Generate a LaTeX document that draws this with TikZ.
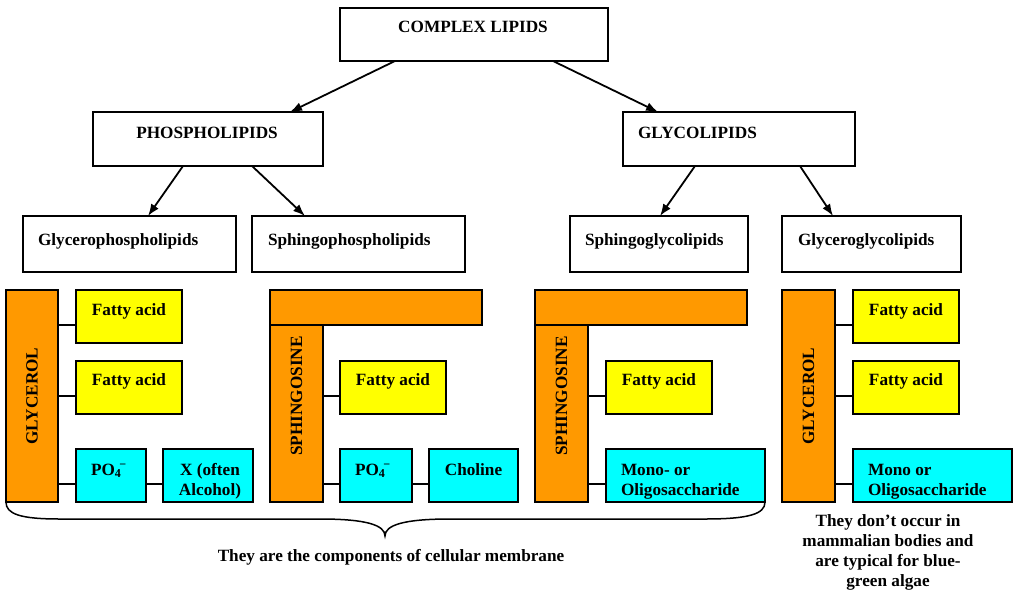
\documentclass[tikz,border=0pt]{standalone}
\usepackage{fontspec}
\setmainfont{Liberation Serif}
\usetikzlibrary{arrows.meta,calc}

\definecolor{barorange}{HTML}{FF9900}
\definecolor{acidyellow}{HTML}{FFFF00}
\definecolor{headcyan}{HTML}{00FFFF}

% \lipidbox{name}{style}{left}{top}{width}{height}
\newcommand\lipidbox[6]{\node[#2, minimum width=#5pt, minimum height=#6pt] (#1) at (#3,#4) {};}

\tikzset{
  outline/.style={rectangle, draw=black, line width=1.3pt, fill=white,
    inner sep=0pt, outer sep=0pt, anchor=north west},
  backbone/.style={outline, fill=barorange},
  acidbox/.style={outline, fill=acidyellow},
  headbox/.style={outline, fill=headcyan},
  txt/.style={font=\bfseries\fontsize{17.2}{20}\selectfont, inner sep=0pt, outer sep=0pt},
  btxt/.style={txt, anchor=base},
  wtxt/.style={txt, anchor=base west},
  vtxt/.style={txt, rotate=90, anchor=center},
  arrowline/.style={line width=1.8pt, -{Latex[length=12pt,width=9pt]}},
  link/.style={line width=1.3pt},
  bracepath/.style={line width=1.5pt},
}

\begin{document}
\begin{tikzpicture}[x=1pt, y=-1pt]
\useasboundingbox (0,0) rectangle (1016,589);

% classification tree
\lipidbox{cl}{outline}{340}{8}{268}{53}
\lipidbox{phos}{outline}{93}{112}{230}{54}
\lipidbox{glyco}{outline}{623}{112}{232}{54}
\lipidbox{gpl}{outline}{23}{216}{213}{56}
\lipidbox{spl}{outline}{252}{216}{213}{56}
\lipidbox{sgl}{outline}{570}{216}{178}{56}
\lipidbox{ggl}{outline}{782}{216}{179}{56}

\node[btxt] at (473,32) {COMPLEX LIPIDS};
\node[btxt] at (207,138) {PHOSPHOLIPIDS};
\node[wtxt] at (638,138) {GLYCOLIPIDS};
\node[wtxt] at (38,245) {Glycerophospholipids};
\node[wtxt] at (268,245) {Sphingophospholipids};
\node[wtxt] at (585,245) {Sphingoglycolipids};
\node[wtxt] at (798,245) {Glyceroglycolipids};

\draw[arrowline] ($(cl.south west)+(55,0)$) -- ($(phos.north west)+(197,0)$);
\draw[arrowline] ($(cl.south west)+(213,0)$) -- ($(glyco.north west)+(35,0)$);
\draw[arrowline] ($(phos.south west)+(90,0)$) -- ($(gpl.north west)+(125,0)$);
\draw[arrowline] ($(phos.south west)+(159,0)$) -- ($(spl.north west)+(53,0)$);
\draw[arrowline] ($(glyco.south west)+(72,0)$) -- ($(sgl.north west)+(90,0)$);
\draw[arrowline] ($(glyco.south west)+(177,0)$) -- ($(ggl.north west)+(51,0)$);

% rows of the attached groups
\coordinate (rowA) at (0,325);
\coordinate (rowB) at (0,396);
\coordinate (rowC) at (0,484);

% glycerophospholipid
\lipidbox{gly1}{backbone}{6}{290}{52}{212}
\lipidbox{fa1a}{acidbox}{76}{290}{106}{53}
\lipidbox{fa1b}{acidbox}{76}{361}{106}{53}
\lipidbox{po1}{headbox}{76}{449}{70}{53}
\lipidbox{x1}{headbox}{163}{449}{90}{53}
\draw[link] (gly1.east |- rowA) -- (fa1a.west |- rowA);
\draw[link] (gly1.east |- rowB) -- (fa1b.west |- rowB);
\draw[link] (gly1.east |- rowC) -- (po1.west |- rowC);
\draw[link] (po1.east |- rowC) -- (x1.west |- rowC);
\node[vtxt] at (gly1.center |- rowB) {GLYCEROL};
\node[btxt] at (129,315) {Fatty acid};
\node[btxt] at (129,385) {Fatty acid};
\node[wtxt] at (91,475) {PO\textsubscript{4}\kern-0.12em\textsuperscript{\char"2212}};
\node[txt, anchor=north, align=center] at (210,463) {X (often\\Alcohol)};

% sphingophospholipid
\lipidbox{sph2top}{backbone}{270}{290}{212}{35}
\lipidbox{sph2}{backbone}{270}{325}{53}{177}
\lipidbox{fa2}{acidbox}{340}{361}{106}{53}
\lipidbox{po2}{headbox}{340}{449}{72}{53}
\lipidbox{cho2}{headbox}{429}{449}{89}{53}
\draw[link] (sph2.east |- rowB) -- (fa2.west |- rowB);
\draw[link] (sph2.east |- rowC) -- (po2.west |- rowC);
\draw[link] (po2.east |- rowC) -- (cho2.west |- rowC);
\node[vtxt] at (sph2.center |- rowB) {SPHINGOSINE};
\node[btxt] at (393,385) {Fatty acid};
\node[wtxt] at (355,475) {PO\textsubscript{4}\kern-0.12em\textsuperscript{\char"2212}};
\node[btxt] at (473.5,475) {Choline};

% sphingoglycolipid
\lipidbox{sph3top}{backbone}{535}{290}{212}{35}
\lipidbox{sph3}{backbone}{535}{325}{53}{177}
\lipidbox{fa3}{acidbox}{606}{361}{106}{53}
\lipidbox{mono3}{headbox}{606}{449}{159}{53}
\draw[link] (sph3.east |- rowB) -- (fa3.west |- rowB);
\draw[link] (sph3.east |- rowC) -- (mono3.west |- rowC);
\node[vtxt] at (sph3.center |- rowB) {SPHINGOSINE};
\node[btxt] at (659,385) {Fatty acid};
\node[txt, anchor=north west, align=left] at (621,464) {Mono- or\\Oligosaccharide};

% glyceroglycolipid
\lipidbox{gly4}{backbone}{782}{290}{53}{212}
\lipidbox{fa4a}{acidbox}{853}{290}{106}{53}
\lipidbox{fa4b}{acidbox}{853}{361}{106}{53}
\lipidbox{mono4}{headbox}{853}{449}{159}{53}
\draw[link] (gly4.east |- rowA) -- (fa4a.west |- rowA);
\draw[link] (gly4.east |- rowB) -- (fa4b.west |- rowB);
\draw[link] (gly4.east |- rowC) -- (mono4.west |- rowC);
\node[vtxt] at (gly4.center |- rowB) {GLYCEROL};
\node[btxt] at (906,315) {Fatty acid};
\node[btxt] at (906,385) {Fatty acid};
\node[txt, anchor=north west, align=left] at (868,464) {Mono or\\Oligosaccharide};

% brace under the membrane lipids
\coordinate (tip) at (385,536);
\draw[bracepath] (gly1.south west)
  .. controls ($(gly1.south west)+(0,12)$) and (20,519) .. (60,519)
  -- (320,519) .. controls (366,519) and (385,525) .. (tip)
  .. controls (385,525) and (404,519) .. (450,519)
  -- (705,519) .. controls (749,519) and (mono3.south east |- 0,514) .. (mono3.south east);

\node[btxt] (membrane) at (391,561) {They are the components of cellular membrane};
\node[txt, anchor=north, align=center] (algae) at (888,515)
  {They don’t occur in\\mammalian bodies and\\are typical for blue-\\green algae};
\end{tikzpicture}
\end{document}
